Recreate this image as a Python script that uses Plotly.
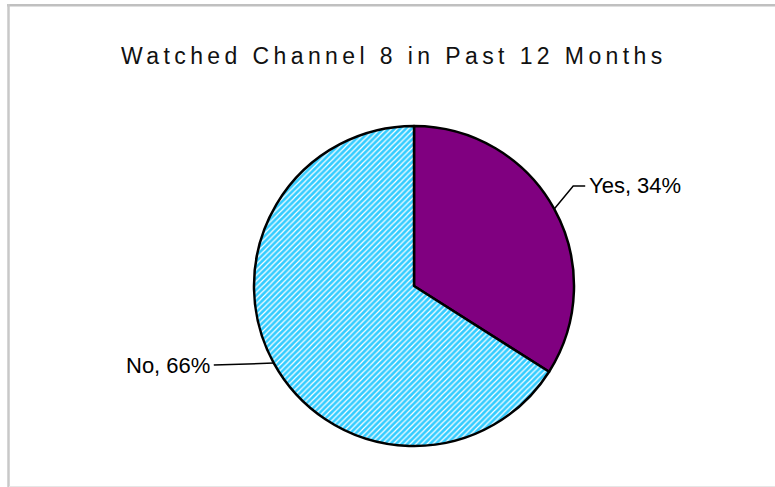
import math
import plotly.graph_objects as go

# Survey result
categories = ["Yes", "No"]
shares = [34, 66]
label_texts = ["Yes, 34%", "No, 66%"]

W, H = 775, 487
CX, CY, R = 414, 286, 160          # pie centre and radius in pixels

slice_colors = ["#800080", "#33CCFF"]
slice_patterns = ["", "/"]

# leader geometry per label: elbow offset from the rim and horizontal run
leader_elbow = [(19, -23), (-60, 2)]
leader_run = [12, 0]


def px(x):
    return x / W


def py(y):
    return 1 - y / H


fig = go.Figure(
    go.Pie(
        labels=categories,
        values=shares,
        sort=False,
        direction="clockwise",
        rotation=0,
        textinfo="none",
        hoverinfo="label+percent",
        marker=dict(
            colors=slice_colors,
            line=dict(color="black", width=2.5),
            pattern=dict(shape=slice_patterns, bgcolor=slice_colors,
                         fgcolor="white", fgopacity=1, size=4, solidity=0.3),
        ),
        domain=dict(x=[px(CX - R), px(CX + R)], y=[py(CY + R), py(CY - R)]),
        showlegend=False,
    )
)

shapes = []
annotations = []
total = sum(shares)
cum = 0
for i, v in enumerate(shares):
    mid = (cum + v / 2) / total * 2 * math.pi
    cum += v
    ex, ey = CX + R * math.sin(mid), CY - R * math.cos(mid)
    bx, by = ex + leader_elbow[i][0], ey + leader_elbow[i][1]
    side = 1 if math.sin(mid) >= 0 else -1
    tx = bx + side * leader_run[i]
    shapes.append(dict(
        type="path", xref="paper", yref="paper",
        path=f"M {px(ex)} {py(ey)} L {px(bx)} {py(by)} L {px(tx)} {py(by)}",
        line=dict(color="black", width=1.5),
    ))
    annotations.append(dict(
        x=px(tx + side * 2), y=py(by), xref="paper", yref="paper",
        text=label_texts[i], showarrow=False,
        xanchor="left" if side > 0 else "right", yanchor="middle",
        font=dict(family="Liberation Sans, Arial, sans-serif", size=22, color="black"),
    ))

# chart frame
shapes += [
    dict(type="line", xref="paper", yref="paper", x0=px(7), x1=1.01, y0=py(5.3), y1=py(5.3),
         line=dict(color="#c0c0c0", width=2.5)),
    dict(type="line", xref="paper", yref="paper", x0=px(8.5), x1=px(8.5), y0=py(4), y1=py(487),
         line=dict(color="#c8c8c8", width=2.5)),
    dict(type="line", xref="paper", yref="paper", x0=px(9), x1=1.01, y0=py(486.5), y1=py(486.5),
         line=dict(color="#e6e6e6", width=1)),
]

fig.update_layout(
    width=W, height=H,
    margin=dict(l=0, r=0, t=0, b=0),
    paper_bgcolor="white",
    plot_bgcolor="white",
    shapes=shapes,
    annotations=annotations + [dict(
        x=px(394), y=py(56), xref="paper", yref="paper", showarrow=False,
        xanchor="center", yanchor="middle",
        text='<span style="letter-spacing:4.4px">Watched Channel 8 in Past 12 Months</span>',
        font=dict(family="Liberation Sans, Arial, sans-serif", size=23, color="#111111"),
    )],
)

fig.write_html("out.html")
